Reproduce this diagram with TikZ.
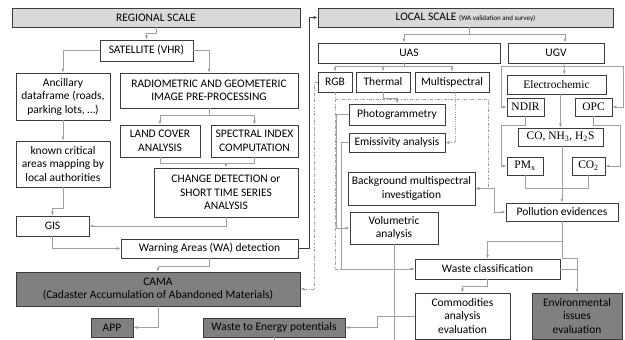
\documentclass[tikz,border=0pt]{standalone}
\usepackage{fontspec}
\setmainfont{Carlito}
\newfontfamily\tnr{Liberation Serif}
\usetikzlibrary{arrows.meta,calc}
\definecolor{boxline}{RGB}{60,60,60}
\definecolor{linkgray}{RGB}{160,160,160}
\definecolor{headgray}{RGB}{217,217,217}
\definecolor{camagray}{RGB}{128,128,128}

\begin{document}
\begin{tikzpicture}[x=1pt, y=-1pt, >={Latex[length=4pt,width=3pt]},
  every node/.style={font=\fontsize{11.5}{13.5}\selectfont},
  box/.style={draw=boxline, line width=0.7pt, fill=white, align=center, inner sep=1pt},
  head/.style={box, fill=headgray},
  dark/.style={box, fill=camagray},
  serif/.style={font=\tnr\fontsize{11.5}{13.5}\selectfont},
  wh/.style 2 args={minimum width=#1pt, minimum height=#2pt},
  link/.style={draw=linkgray, line width=0.7pt},
  conn/.style={link, ->},
  dotconn/.style={link, ->, dash pattern=on 1.2pt off 1.2pt},
  ddconn/.style={link, ->, dash pattern=on 3pt off 1.5pt on 0.8pt off 1.5pt}]
\useasboundingbox (0,0) rectangle (625,340);

% regional scale
\node[head, wh={288}{19}] (regional) at (156,17.5) {REGIONAL SCALE};
\node[box, wh={93}{21}] (sat) at (146.5,50.5) {SATELLITE (VHR)};
\node[box, wh={94}{47}] (ancil) at (63,96.5) {Ancillary\\dataframe (roads,\\parking lots, \dots)};
\node[box, wh={178}{35}] (radio) at (209,90.5) {RADIOMETRIC AND GEOMETERIC\\IMAGE PRE-PROCESSING};
\node[box, wh={80}{32}] (land) at (160,141) {LAND COVER\\ANALYSIS};
\node[box, wh={87}{32}] (spectral) at (254.5,141) {SPECTRAL INDEX\\COMPUTATION};
\node[box, wh={94}{46}] (known) at (63,164) {known critical\\areas mapping by\\local authorities};
\node[box, wh={144}{49}] (change) at (226,192.5) {CHANGE DETECTION or\\SHORT TIME SERIES\\ANALYSIS};
\node[box, wh={73}{20}] (gis) at (52.5,226) {GIS};
\node[box, wh={177}{19}] (warn) at (209.5,248.5) {Warning Areas (WA) detection};
\node[dark, wh={284}{34}] (cama) at (158,289) {CAMA\\(Cadaster Accumulation of Abandoned Materials)};
\node[dark, wh={42}{19}] (app) at (112,327.5) {APP};
\node[dark, wh={142}{19}] (wte) at (274,327.5) {Waste to Energy potentials};

% local scale
\node[head, wh={295}{19}] (local) at (465.5,17.5) {LOCAL SCALE {\fontsize{7}{8}\selectfont (WA validation and survey)}};
\node[box, wh={182}{20}] (uas) at (409,53) {UAS};
\node[box, wh={96}{20}] (ugv) at (556,53) {UGV};
\node[box, wh={34}{20}] (rgb) at (335,82) {RGB};
\node[box, wh={54}{20}] (thermal) at (383,82) {Thermal};
\node[box, wh={74}{20}] (multi) at (452,82) {Multispectral};
\node[box, serif, wh={99}{19}] (electro) at (556.5,84.5) {Electrochemic};
\node[box, serif, wh={37}{18}] (ndir) at (525.5,107) {NDIR};
\node[box, serif, wh={37}{18}] (opc) at (593.5,107) {OPC};
\node[box, wh={96}{21}] (photo) at (397,114.5) {Photogrammetry};
\node[box, wh={96}{19}] (emiss) at (397,142.5) {Emissivity analysis};
\node[box, serif, wh={85}{18}] (gases) at (560.5,137) {CO, NH\textsubscript{3}, H\textsubscript{2}S};
\node[box, serif, wh={36}{18}] (pmx) at (525,166) {PM\textsubscript{x}};
\node[box, serif, wh={33}{18}] (co2) at (588.5,166) {CO\textsubscript{2}};
\node[box, wh={127}{33}] (backg) at (411.5,188.5) {Background multispectral\\investigation};
\node[box, wh={112}{18}] (pollut) at (562,212) {Pollution evidences};
\node[box, wh={88}{32}] (volum) at (394,228) {Volumetric\\analysis};
\node[box, wh={145}{20}] (wastec) at (487.5,269) {Waste classification};
\node[box, wh={95}{46}] (commod) at (462.5,316) {Commodities\\analysis\\evaluation};
\node[dark, wh={90}{46}] (envir) at (577,316) {Environmental\\issues\\evaluation};
\coordinate (vcut) at (394,341);
\coordinate (wcut) at (274,341);

% regional links
\draw[conn] (regional.south) -- ++(0,6) -| (sat.north);
\draw[conn] (sat.west) -| (ancil.north);
\draw[conn] (sat.east) -| (radio.north);
\draw[conn] (radio.south) -- ++(0,7) -| (land.north);
\draw[conn] (radio.south) -- ++(0,7) -| (spectral.north);
\draw[link] (land.south) -- ++(0,6) -| (spectral.south);
\draw[conn] ([yshift=-6pt]land.south) -| (change.north);
\draw[conn] (change.south) |- (gis.east);
\draw[conn] (ancil.south) -- (known.north);
\draw[conn] (known.south) -- ++(0,21) -| (gis.north);
\draw[conn] (gis.south) |- (warn.west);
\draw[->, line width=0.7pt, draw=boxline] (warn.east) -- ++(11,0) |- (local.west);
\draw[conn] (warn.south) -- ++(0,8) -| (cama.north);
\draw[conn] (cama.south) |- (app.east);

% local links
\draw[conn] ([xshift=4pt]local.south) -- ++(0,7) -| ([xshift=-5pt]uas.north);
\draw[conn] ([xshift=4pt]local.south) -- ++(0,7) -| ([xshift=9pt]ugv.north);
\draw[conn] ([xshift=-5pt]uas.south) -- ++(0,3) -| (rgb.north);
\draw[conn] ([xshift=-5pt]uas.south) -- ++(0,3) -| (thermal.north);
\draw[conn] ([xshift=-5pt]uas.south) -- ++(0,3) -| (multi.north);
\draw[conn] ([xshift=8pt]ugv.south) -- ([xshift=8pt]electro.north);
\draw[conn] ([xshift=8pt,yshift=-3pt]ugv.south) -| ([xshift=-5pt]ndir.west) -- (ndir.west);
\draw[conn] ([xshift=8pt,yshift=-3pt]ugv.south) -| ([xshift=11pt]opc.east) -- (opc.east);
\draw[conn] (gases.north |- electro.south) -- (gases.north);
\draw[conn] (ndir.south) -- ++(0,9) -| ([xshift=-5pt]pmx.west) -- (pmx.west);
\draw[conn] (opc.south) -- ++(0,9) -| ([xshift=15pt]co2.east) -- (co2.east);
\draw[link] (pmx.south) -- ++(0,13) -| (co2.south);
\draw[conn] (gases.south -| pollut.north) -- (pollut.north);
\draw[link, <->] (backg.east) -- ++(19,0) |- (pollut.west);
\draw[conn] (thermal.south) -- ++(0,6) -| (photo.north);
\draw[dotconn] ([xshift=3pt]multi.south) |- (emiss.east);
\draw[ddconn] (rgb.south) -- ++(0,7) -| ([xshift=13pt]backg.east) -- (backg.east);
\draw[ddconn] (rgb.south) |- (wastec.west);
\draw[ddconn] (rgb.west) -- ++(-3,0) |- (cama.east);
\draw[conn] (photo.west) -- ++(-12,0) |- (volum.west);
\draw[conn] (emiss.west) -- ++(-7,0) |- (wastec.west);
\draw[link] (volum.south) -- (vcut);
\draw[conn] (pollut.south) -- ++(0,20) -| (wastec.north);
\draw[conn] (pollut.south) -- ++(0,37) -| (envir.north);
\draw[link] (wastec.east) -| ([yshift=2pt]envir.north);
\draw[conn] (wastec.south) -- ++(0,7) -| (commod.north);
\draw[conn] (commod.west) -- ++(-37,0) |- (wte.east);
\draw[link] (wte.south) -- (wcut);
\end{tikzpicture}
\end{document}
